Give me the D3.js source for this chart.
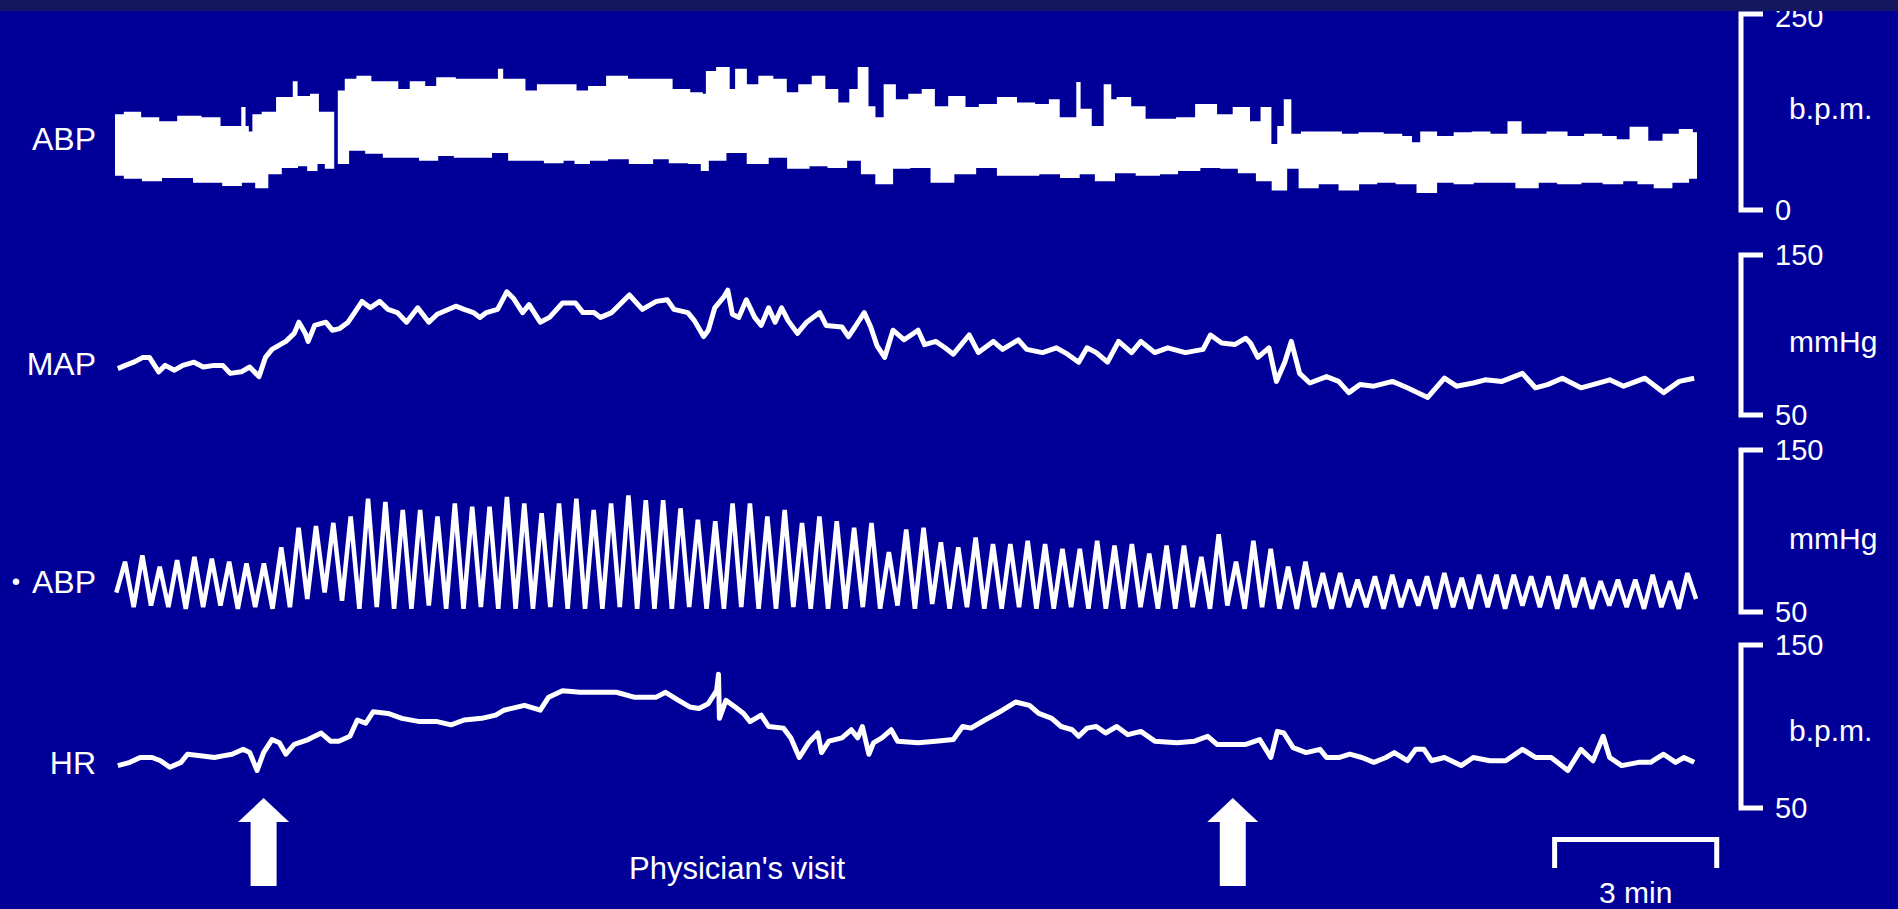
<!DOCTYPE html>
<html>
<head>
<meta charset="utf-8">
<script src="https://cdn.jsdelivr.net/npm/d3@7"></script>
<style>
  html, body { margin: 0; padding: 0; background: #000099; overflow: hidden; }
  svg { display: block; }
  text { font-family: "Liberation Sans", Arial, Helvetica, sans-serif; fill: #ffffff; }
</style>
</head>
<body>
<svg id="chart" width="1898" height="909"></svg>
<script>
// ---------------------------------------------------------------
// Recording data. Time is seconds from the start of the recording.
// ---------------------------------------------------------------

// Beat-to-beat pressure band: upper and lower envelope (null = signal gap)
const abpHigh = [[0,121],[19,124],[33,117],[58,112],[76,119],[106,117],[117,106],[135,106],[137,130],[140,106],[144,99],[152,121],[164,124],[183,143],[190,143],[193,163],[196,144],[203,144],[217,147],[218,124],[231,124],[234,124],
  [236,null],
  [240,151],[255,166],[265,170],[283,163],[298,163],[308,153],[327,163],[337,157],[355,168],[375,166],[394,166],[411,166],[414,179],[418,166],[433,166],[447,151],[462,159],[490,159],[500,151],[519,157],[539,170],[562,166],[591,166],[606,153],[629,149],[633,147],[640,176],[655,181],[665,153],[671,179],[686,159],[700,170],[714,166],[729,149],[743,159],[758,170],[768,153],[786,136],[796,153],[804,181],[808,181],[811,131],[823,117],[833,159],[845,140],[864,147],[874,153],[888,131],[907,144],[921,130],[940,134],[960,143],[979,136],[999,134],[1013,140],[1018,117],[1034,117],[1037,162],[1039,128],[1061,106],[1069,159],[1073,140],[1085,143],[1100,131],[1116,115],[1133,115],[1153,117],[1174,134],[1196,121],[1212,130],[1229,112],[1239,130],[1248,83],[1256,106],[1262,140],[1268,96],[1287,99],[1311,99],[1328,96],[1351,98],[1378,96],[1391,93],[1399,85],[1413,99],[1431,93],[1453,98],[1470,99],[1489,96],[1511,112],[1515,96],[1533,96],[1551,99],[1574,93],[1591,96],[1609,93],[1622,89],[1641,105],[1658,87],[1676,96],[1693,102],[1702,98]];

const abpLow = [[0,45],[19,41],[39,38],[58,42],[76,42],[92,36],[106,36],[125,32],[144,36],[158,29],[168,47],[187,55],[203,57],[211,51],[221,60],[231,54],[234,54],
  [236,null],
  [240,60],[260,77],[279,73],[298,68],[318,68],[337,64],[355,70],[375,68],[394,68],[414,74],[433,64],[452,64],[472,61],[490,64],[500,60],[519,64],[539,66],[568,60],[587,66],[606,61],[629,60],[633,51],[642,64],[671,74],[690,60],[714,68],[734,54],[758,57],[777,55],[796,64],[811,47],[827,34],[845,54],[864,55],[893,36],[911,47],[940,55],[960,45],[979,45],[1008,47],[1028,42],[1046,47],[1065,38],[1085,48],[1114,45],[1133,47],[1153,51],[1181,55],[1200,54],[1219,48],[1239,38],[1253,26],[1268,54],[1282,29],[1307,34],[1329,26],[1347,34],[1368,36],[1391,34],[1413,23],[1431,36],[1453,34],[1470,36],[1497,36],[1520,29],[1543,36],[1564,34],[1591,36],[1614,34],[1631,38],[1649,34],[1666,29],[1685,36],[1702,41]];

// Mean arterial pressure (mmHg)
const mapTrace = [[2,79],[10,81],[19,83],[29,86],[36,86],[46,77],[53,81],[63,78],[72,81],[84,83],[94,80],[106,81],[115,81],[123,76],[135,77],[144,80],[154,74],[161,86],[168,91],[183,96],[192,101],[197,108],[204,101],[207,96],[214,106],[226,108],[233,103],[241,104],[250,108],[257,114],[265,121],[274,117],[284,121],[293,116],[303,114],[313,108],[325,117],[337,108],[346,113],[366,118],[375,116],[385,114],[392,111],[399,114],[411,116],[421,127],[428,123],[438,114],[445,119],[457,108],[467,111],[481,120],[495,120],[503,114],[515,114],[522,111],[534,114],[553,125],[567,116],[582,121],[594,122],[601,116],[616,114],[623,109],[633,99],[638,103],[645,117],[655,124],[659,128],[664,113],[671,111],[679,122],[688,111],[695,106],[703,117],[710,108],[717,117],[724,109],[734,101],[744,108],[758,114],[765,106],[782,105],[789,99],[796,105],[806,114],[813,105],[820,93],[828,86],[837,103],[849,97],[864,103],[871,94],[883,96],[893,92],[902,88],[919,100],[929,89],[945,96],[955,91],[972,97],[981,91],[998,89],[1013,92],[1025,88],[1037,83],[1046,92],[1056,89],[1068,83],[1080,96],[1094,89],[1104,96],[1119,89],[1133,92],[1152,89],[1171,91],[1179,100],[1191,95],[1205,94],[1217,98],[1222,95],[1230,86],[1242,92],[1250,71],[1259,83],[1266,96],[1275,76],[1286,70],[1304,74],[1317,71],[1328,64],[1340,69],[1355,68],[1375,71],[1391,67],[1413,61],[1431,73],[1444,68],[1462,70],[1475,72],[1493,71],[1515,76],[1529,67],[1542,69],[1558,73],[1578,67],[1591,69],[1609,72],[1624,68],[1647,73],[1667,64],[1684,71],[1700,73]];

// Slow pressure oscillation: peak of each cycle and the trough around it (mmHg)
const slowStart = 9.7;     // time of first peak (s)
const slowPeriod = 18.7;   // cycle length (s)
const slowPeaks = [81,85,78,82,84,83,81,80,80,90,102,103,105,109,120,118,113,113,109,117,115,115,121,117,111,117,120,113,117,122,119,119,114,107,
  106,117,117,109,113,105,109,106,102,105,87,101,102,93,90,96,92,92,94,92,89,89,94,91,92,86,91,91,84,98,81,94,89,78,81,74,74,
  70,72,73,70,72,74,71,73,73,73,72,72,73,71,69,70,70,73,69,74];
const slowTroughs = [62,
  53,54,53,52,53,54,52,53,52,53,58,62,57,
  52,53,52,52,54,52,52,53,52,52,52,53,52,52,52,53,52,52,52,53,52,
  52,53,52,52,53,52,52,52,53,52,54,52,55,52,53,52,52,53,52,52,53,52,52,52,53,52,52,53,52,54,52,53,52,52,53,52,53,
  53,52,53,54,52,53,52,53,52,54,53,52,53,52,54,53,52,53,52,58];

// Heart rate (b.p.m.)
const hrTrace = [[2,76],[15,78],[26,81],[39,81],[48,79],[58,75],[70,78],[77,83],[91,82],[106,81],[115,82],[125,83],[137,86],[144,84],[152,73],[159,84],[168,92],[176,90],[183,83],[192,89],[207,92],[221,96],[231,91],[240,91],[252,94],[260,104],[269,102],[277,109],[293,108],[308,105],[327,103],[346,103],[361,101],[375,104],[394,105],[409,107],[418,110],[440,113],[457,110],[466,118],[481,122],[500,121],[515,121],[539,121],[558,118],[567,118],[582,118],[592,121],[606,116],[618,112],[628,111],[638,114],[647,122],[649,132],[650,105],[657,116],[667,112],[676,108],[683,103],[695,107],[703,100],[719,99],[727,93],[736,81],[746,90],[756,96],[760,84],[768,91],[782,93],[792,98],[799,93],[804,100],[811,83],[816,90],[825,93],[835,98],[842,91],[864,90],[883,91],[902,92],[912,100],[921,99],[936,104],[955,110],[969,115],[984,113],[994,108],[1008,105],[1018,100],[1030,98],[1037,94],[1046,99],[1056,100],[1066,96],[1078,100],[1090,95],[1104,97],[1119,91],[1143,90],[1162,91],[1176,94],[1186,89],[1200,89],[1217,89],[1232,92],[1244,81],[1251,97],[1258,96],[1268,87],[1282,84],[1297,86],[1304,81],[1318,81],[1329,83],[1342,81],[1355,78],[1368,81],[1377,84],[1391,79],[1400,86],[1409,86],[1417,79],[1431,81],[1449,76],[1462,81],[1480,79],[1497,79],[1515,86],[1529,81],[1546,81],[1564,73],[1578,86],[1591,79],[1602,94],[1609,81],[1622,76],[1640,78],[1653,78],[1667,83],[1680,78],[1689,81],[1700,78]];

// Scale ranges, labels and annotations
const abpRange = [0, 250];
const mapRange = [50, 150];
const slowRange = [50, 150];
const hrRange = [50, 150];
const traceLabels = ["ABP", "MAP", "ABP", "HR"];
const unitLabels = ["b.p.m.", "mmHg", "mmHg", "b.p.m."];
const visitTimes = [159, 1203];
const visitText = "Physician's visit";
const visitTextAt = 669;
const scaleBarStart = 1547;
const scaleBarMinutes = 3;
const recordEnd = 1702;

// ---------------------------------------------------------------
// Layout
// ---------------------------------------------------------------
const svg = d3.select("#chart");
const W = 1898, H = 909;

svg.append("rect").attr("width", W).attr("height", H).attr("fill", "#000099");

const x = d3.scaleLinear().domain([0, recordEnd]).range([116, 116 + recordEnd * 0.92833]);

const panels = [
  { domain: abpRange,  range: [210, 14],  labelY: 150, unitY: 119 },
  { domain: mapRange,  range: [415, 255], labelY: 375, unitY: 352 },
  { domain: slowRange, range: [612, 450], labelY: 593, unitY: 549, bullet: true },
  { domain: hrRange,   range: [808, 645], labelY: 774, unitY: 741 }
];
panels.forEach(p => { p.y = d3.scaleLinear().domain(p.domain).range(p.range); });

const white = "#ffffff";

// --- Panel 1: filled beat-to-beat band (stepped envelope) ---
function runs(arr) {
  const out = [[]];
  arr.forEach(d => d[1] == null ? out.push([]) : out[out.length - 1].push(d));
  return out.filter(r => r.length);
}
function bandPath(hi, lo, xs, ys) {
  const gen = d3.line().x(d => xs(d[0])).y(d => ys(d[1])).curve(d3.curveStep);
  const top = gen(hi);
  const bot = gen(lo.slice().reverse());
  return top + "L" + bot.slice(1) + "Z";
}
const hiRuns = runs(abpHigh), loRuns = runs(abpLow);
svg.append("g").selectAll("path")
  .data(hiRuns.map((r, i) => [r, loRuns[i]]))
  .join("path")
  .attr("d", d => bandPath(d[0], d[1], x, panels[0].y))
  .attr("fill", white)
  .attr("stroke", white)
  .attr("stroke-width", 2)
  .attr("stroke-linejoin", "miter");

// --- Panel 2: MAP ---
const line = ys => d3.line().x(d => x(d[0])).y(d => ys(d[1])).curve(d3.curveLinear);
svg.append("path")
  .datum(mapTrace)
  .attr("d", line(panels[1].y))
  .attr("fill", "none").attr("stroke", white)
  .attr("stroke-width", 5).attr("stroke-linejoin", "round");

// --- Panel 3: slow oscillation ---
const slowPts = [[slowStart - slowPeriod / 2, slowTroughs[0]]];
slowPeaks.forEach((v, i) => {
  const t = slowStart + i * slowPeriod;
  slowPts.push([t, v]);
  slowPts.push([t + slowPeriod / 2, slowTroughs[i + 1]]);
});
svg.append("path")
  .datum(slowPts)
  .attr("d", line(panels[2].y))
  .attr("fill", "none").attr("stroke", white)
  .attr("stroke-width", 4.5).attr("stroke-linejoin", "miter").attr("stroke-miterlimit", 3);

// --- Panel 4: HR ---
svg.append("path")
  .datum(hrTrace)
  .attr("d", line(panels[3].y))
  .attr("fill", "none").attr("stroke", white)
  .attr("stroke-width", 5).attr("stroke-linejoin", "round");

// --- Left trace labels ---
const labels = svg.append("g");
panels.forEach((p, i) => {
  labels.append("text")
    .attr("x", 96).attr("y", p.labelY)
    .attr("text-anchor", "end")
    .attr("font-size", 32)
    .text(traceLabels[i]);
  if (p.bullet) {
    labels.append("text")
      .attr("x", 16).attr("y", p.labelY - 3)
      .attr("text-anchor", "middle")
      .attr("font-size", 24)
      .text("\u2022");
  }
});

// --- Right calibration brackets ---
const bx = 1741, tickLen = 22;
const brackets = svg.append("g");
panels.forEach((p, i) => {
  const yTop = p.y(p.domain[1]), yBot = p.y(p.domain[0]);
  brackets.append("path")
    .attr("d", `M${bx + tickLen},${yTop}H${bx}V${yBot}H${bx + tickLen}`)
    .attr("fill", "none").attr("stroke", white).attr("stroke-width", 5)
    .attr("stroke-linejoin", "miter");
  brackets.append("text")
    .attr("x", 1775).attr("y", yTop + (i === 0 ? 13 : 10))
    .attr("font-size", 29)
    .text(p.domain[1]);
  brackets.append("text")
    .attr("x", 1775).attr("y", yBot + 10)
    .attr("font-size", 29)
    .text(p.domain[0]);
  brackets.append("text")
    .attr("x", 1789).attr("y", p.unitY)
    .attr("font-size", 30)
    .text(unitLabels[i]);
});

// --- Visit markers ---
const arrows = svg.append("g");
visitTimes.forEach(t => {
  const cx = x(t);
  const pts = [[cx, 798], [cx + 25.5, 822], [cx + 13, 822], [cx + 13, 886],
               [cx - 13, 886], [cx - 13, 822], [cx - 25.5, 822]];
  arrows.append("path")
    .attr("d", "M" + pts.map(p => p.join(",")).join("L") + "Z")
    .attr("fill", white);
});
svg.append("text")
  .attr("x", x(visitTextAt)).attr("y", 879)
  .attr("text-anchor", "middle")
  .attr("font-size", 31)
  .text(visitText);

// --- Time scale bar ---
const sb0 = x(scaleBarStart), sb1 = x(scaleBarStart + scaleBarMinutes * 60);
svg.append("path")
  .attr("d", `M${sb0 + 2.5},868V839.5H${sb1 - 2.5}V868`)
  .attr("fill", "none").attr("stroke", white).attr("stroke-width", 5)
  .attr("stroke-linejoin", "miter");
svg.append("text")
  .attr("x", (sb0 + sb1) / 2).attr("y", 903)
  .attr("text-anchor", "middle")
  .attr("font-size", 30)
  .text(`${scaleBarMinutes} min`);

// --- Top strip ---
svg.append("rect").attr("x", 0).attr("y", 0).attr("width", W).attr("height", 11).attr("fill", "#15175f");
</script>
</body>
</html>
